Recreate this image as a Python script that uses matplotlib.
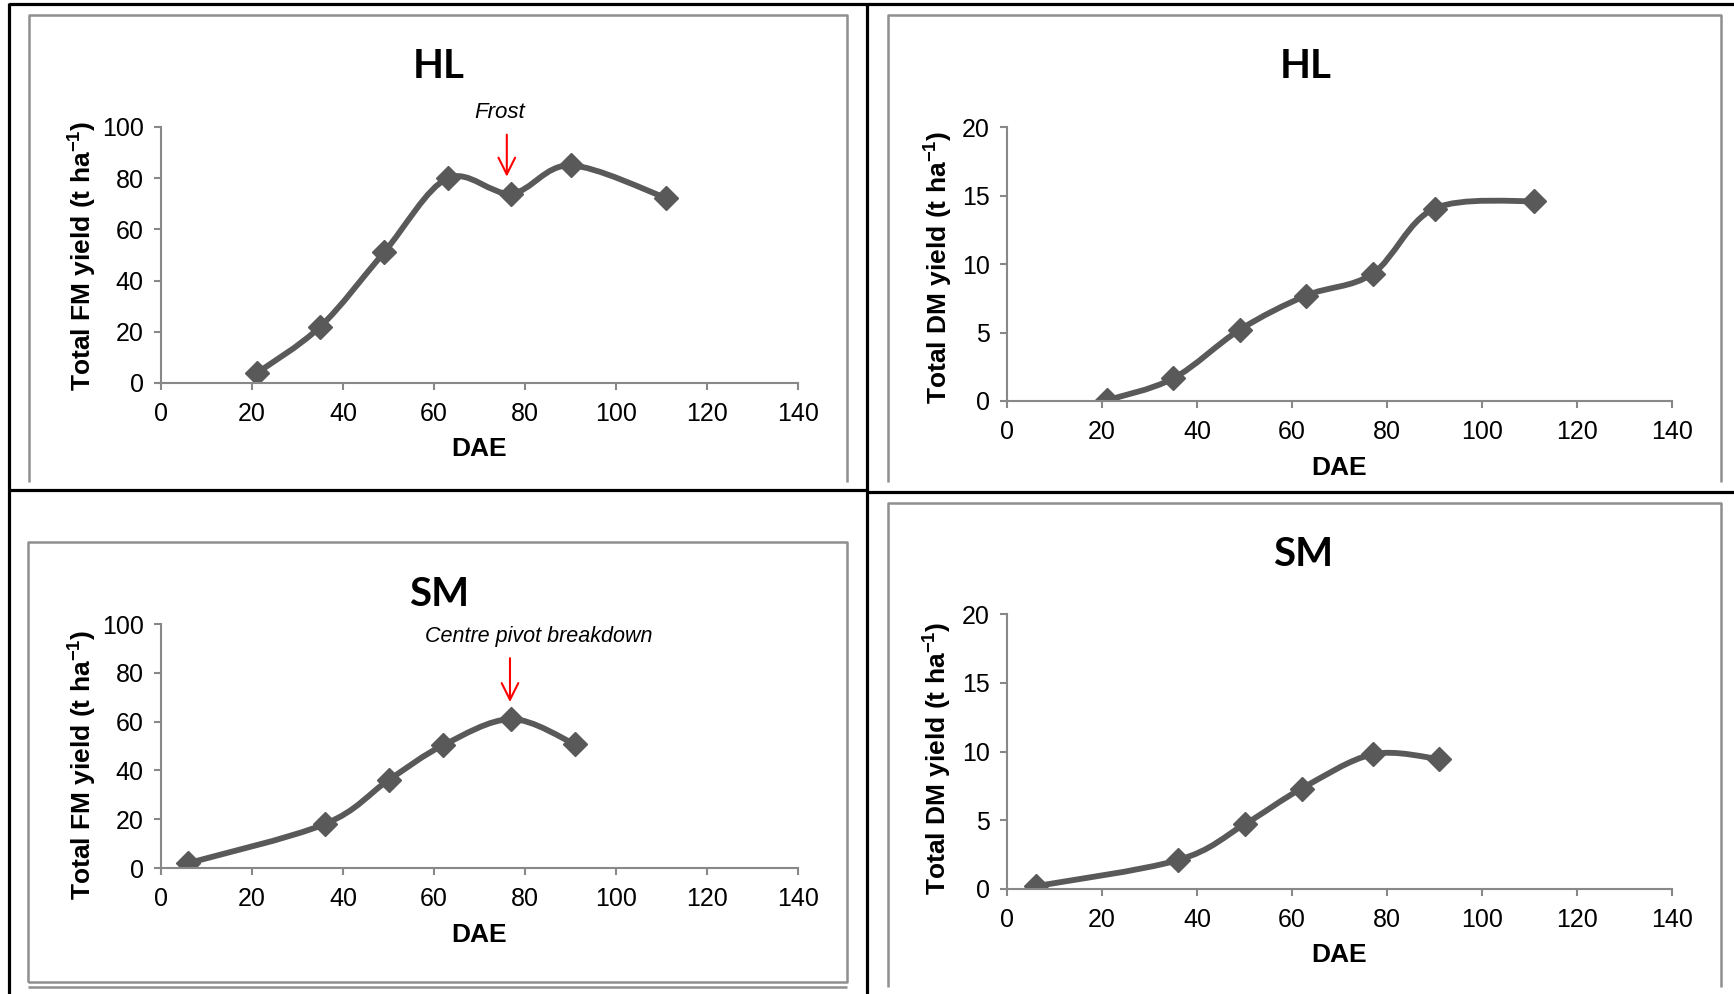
import matplotlib
matplotlib.use("Agg")
import matplotlib.pyplot as plt
import numpy as np
from matplotlib.path import Path
from matplotlib.patches import PathPatch
from matplotlib.lines import Line2D

plt.rcParams["font.family"] = ["Liberation Sans", "DejaVu Sans"]
plt.rcParams["mathtext.fontset"] = "custom"
plt.rcParams["mathtext.rm"] = "Liberation Sans"
plt.rcParams["mathtext.bf"] = "Liberation Sans:bold"

# data
hl_dae = [21, 35, 49, 63, 77, 90, 111]
hl_fm = [3.8, 22, 51, 80, 74, 85, 72.3]
hl_dm = [0.05, 1.65, 5.2, 7.7, 9.3, 14.05, 14.6]
sm_dae = [6, 36, 50, 62, 77, 91]
sm_fm = [2, 18, 36, 50.3, 61, 50.7]
sm_dm = [0.2, 2.1, 4.7, 7.3, 9.8, 9.45]

x_ticks = [0, 20, 40, 60, 80, 100, 120, 140]
fm_ticks = [0, 20, 40, 60, 80, 100]
dm_ticks = [0, 5, 10, 15, 20]

LINE = "#595959"
AXIS = "#888888"
BORDER = "#8f8f8f"
W, H = 1734, 994

fig = plt.figure(figsize=(W / 100, H / 100), dpi=100)


def px_rect(left, top, right, bottom):
    return [left / W, 1 - bottom / H, (right - left) / W, (bottom - top) / H]


def fig_line(xs, ys, color, lw):
    fig.add_artist(Line2D([x / W for x in xs], [1 - y / H for y in ys],
                          color=color, lw=lw, solid_capstyle="butt"))


def smooth_path(xs, ys):
    # excel-like smoothed line: bezier segments through the points
    pts = np.column_stack([xs, ys]).astype(float)
    ext = np.vstack([pts[0], pts, pts[-1]])
    verts = [pts[0]]
    codes = [Path.MOVETO]
    for i in range(len(pts) - 1):
        p0, p1, p2, p3 = ext[i], ext[i + 1], ext[i + 2], ext[i + 3]
        verts += [p1 + (p2 - p0) / 6, p2 - (p3 - p1) / 6, p2]
        codes += [Path.CURVE4] * 3
    return Path(verts, codes)


def panel(rect, xs, ys, yticks, ylabel, title, title_xy, ylab_x, ylab_y, xlab_y):
    ax = fig.add_axes(rect)
    ax.add_patch(PathPatch(smooth_path(xs, ys), facecolor="none", edgecolor=LINE,
                           lw=4.2, capstyle="round", joinstyle="round"))
    ax.plot(xs, ys, ls="none", marker="D", ms=12.5, color=LINE)
    ax.set_xlim(0, 140)
    ax.set_ylim(yticks[0], yticks[-1])
    ax.set_xticks(x_ticks)
    ax.set_yticks(yticks)
    for s in ["top", "right"]:
        ax.spines[s].set_visible(False)
    for s in ["left", "bottom"]:
        ax.spines[s].set_color(AXIS)
        ax.spines[s].set_linewidth(1.5)
    ax.tick_params(axis="both", colors=AXIS, labelcolor="black", labelsize=18,
                   length=5, width=1.5, direction="out")
    ax.tick_params(axis="x", pad=8.5)
    ax.tick_params(axis="y", pad=7.5)
    ax.set_ylabel(ylabel, fontsize=19, fontweight="bold")
    ax.set_xlabel("DAE", fontsize=19, fontweight="bold")
    ax.yaxis.set_label_coords(ylab_x, ylab_y)
    ax.xaxis.set_label_coords(0.5, xlab_y)
    fig.text(title_xy[0] / W, 1 - title_xy[1] / H, title, family="Lato",
             fontweight="bold", fontsize=29, ha="center", va="center")
    return ax


fm_label = r"Total FM yield (t ha$^{\mathbf{-1}}$)"
dm_label = r"Total DM yield (t ha$^{\mathbf{-1}}$)"

ax1 = panel(px_rect(161, 127, 798, 383), hl_dae, hl_fm, fm_ticks, fm_label,
            "HL", (439, 66), -0.099, 0.496, -0.211)
ax2 = panel(px_rect(1007, 127, 1672, 401), hl_dae, hl_dm, dm_ticks, dm_label,
            "HL", (1306, 66), -0.079, 0.488, -0.200)
ax3 = panel(px_rect(161, 624, 798, 868), sm_dae, sm_fm, fm_ticks, fm_label,
            "SM", (439, 594), -0.099, 0.422, -0.225)
ax4 = panel(px_rect(1007, 614, 1672, 889), sm_dae, sm_dm, dm_ticks, dm_label,
            "SM", (1303, 554), -0.081, 0.476, -0.196)

# annotations
arrow = dict(arrowstyle="->,head_length=0.6,head_width=0.3", color="red",
             lw=1.5, mutation_scale=20, shrinkA=0, shrinkB=0)
ax1.annotate("", xy=(76, 80.6), xytext=(76, 97), arrowprops=arrow,
             annotation_clip=False)
ax1.text(74.5, 105.5, "Frost", style="italic", fontsize=16, ha="center",
         va="center")
ax3.annotate("", xy=(76.7, 68), xytext=(76.7, 86), arrowprops=arrow,
             annotation_clip=False)
ax3.text(83, 95, "Centre pivot breakdown", style="italic", fontsize=15.5,
         ha="center", va="center")

# chart frames
fig_line([29, 29, 847, 847], [482, 15, 15, 482], BORDER, 1.8)
fig_line([888, 888, 1721, 1721], [482, 15, 15, 482], BORDER, 1.8)
fig_line([28, 28, 847, 847, 28], [982, 542, 542, 982, 982], BORDER, 1.8)
fig_line([28, 847], [986.5, 986.5], BORDER, 1.8)
fig_line([888, 888, 1721, 1721], [987, 503, 503, 987], BORDER, 1.8)

# table lines
fig_line([9, 1734], [4, 4], "black", 2.3)
fig_line([9, 9], [3, 994], "black", 2.3)
fig_line([867, 867], [3, 994], "black", 2.3)
fig_line([9, 867], [490, 490], "black", 2.3)
fig_line([867, 1734], [492, 492], "black", 2.3)

fig.savefig("out.png", dpi=100, facecolor="white")
